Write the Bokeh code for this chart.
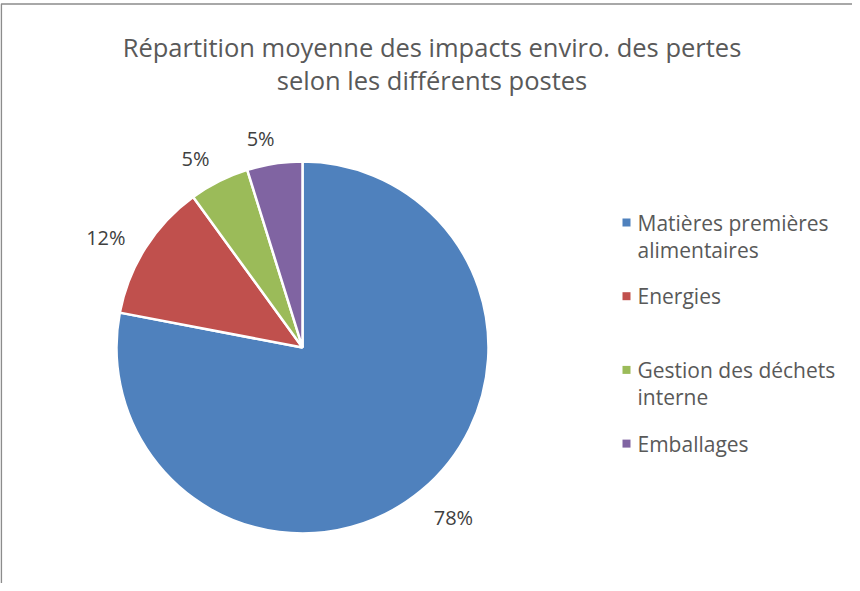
import math
from bokeh.plotting import figure
from bokeh.models import Range1d
from bokeh.core.properties import value
from bokeh.embed import file_html
from bokeh.resources import INLINE

# ---------------- data ----------------
title_lines = ["Répartition moyenne des impacts enviro. des pertes",
               "selon les différents postes"]
categories = ["Matières premières\nalimentaires", "Energies",
              "Gestion des déchets\ninterne", "Emballages"]
shares = [78.0, 12.0, 5.2, 4.8]
share_labels = ["78%", "12%", "5%", "5%"]
colors = ["#4F81BD", "#C0504D", "#9BBB59", "#8064A2"]

# ---------------- layout (px, origin top-left of the canvas) ----------------
W, H = 852, 583
FONT = "Open Sans"
cx, cy, R = 302, 347, 186

def sy(y):  # screen y -> data y
    return H - y

p = figure(width=W, height=H, output_backend="svg", toolbar_location=None,
           x_range=Range1d(0, W), y_range=Range1d(0, H), min_border=0)
p.axis.visible = False
p.grid.visible = False
p.outline_line_color = None
p.background_fill_color = "white"

# chart frame (top and left edges visible)
p.line(x=[0.8, 0.8, W], y=[0, sy(3.5), sy(3.5)], line_color="#8c8c8c", line_width=1.6)

# title
title_baselines = [46, 79]
for t, b in zip(title_lines, title_baselines):
    p.text(x=[431.5], y=[sy(b)], text=[t], text_font=value(FONT), text_font_size="25.5px",
           text_color="#595959", text_align="center", text_baseline="alphabetic")

# pie
total = float(sum(shares))
cum = 0.0
starts, ends, mids = [], [], []
for v in shares:
    a0 = math.pi / 2 - 2 * math.pi * cum / total
    cum += v
    a1 = math.pi / 2 - 2 * math.pi * cum / total
    starts.append(a0)
    ends.append(a1)
    mids.append((a0 + a1) / 2)

p.wedge(x=[cx] * len(shares), y=[sy(cy)] * len(shares), radius=R,
        start_angle=starts, end_angle=ends, direction="clock",
        fill_color=colors, line_color="white", line_width=2.5)

# data labels (outside end, best-fit like)
gap = 19
nudge = math.radians(2.5)
for lab, a in zip(share_labels, mids):
    a = a + nudge
    ux, uy = math.cos(a), math.sin(a)
    hw = 6.0 * len(lab) + 2
    hh = 9
    d = R + gap + abs(ux) * hw + abs(uy) * hh
    p.text(x=[cx + d * ux], y=[sy(cy) + d * uy - 3], text=[lab], text_font=value(FONT),
           text_font_size="20px", text_color="#404040", text_align="center",
           text_baseline="middle")

# legend
leg_x_sq, leg_x_txt = 626, 637
slot_top, slot_step, line_h = 229, 73.7, 27
for i, (name, col) in enumerate(zip(categories, colors)):
    base = slot_top + i * slot_step
    p.scatter(x=[leg_x_sq], y=[sy(base - 7)], marker="square", size=8,
              fill_color=col, line_color=None)
    for j, ln in enumerate(name.split("\n")):
        p.text(x=[leg_x_txt], y=[sy(base - 7 + j * line_h)], text=[ln], text_font=value(FONT),
               text_font_size="21px", text_color="#595959", text_align="left",
               text_baseline="alphabetic")

open("out.html", "w").write(file_html(p, INLINE))
